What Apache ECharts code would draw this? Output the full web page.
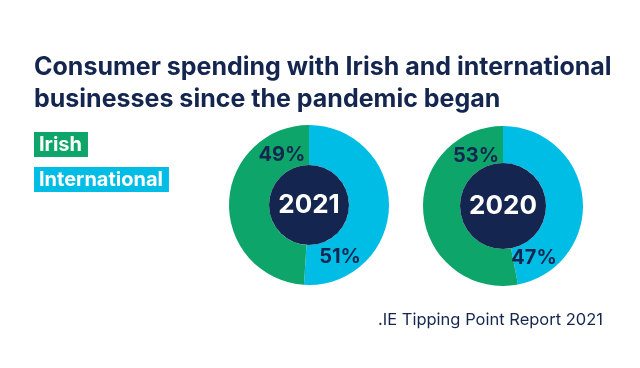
<!DOCTYPE html>
<html><head><meta charset="utf-8">
<script src="https://cdn.jsdelivr.net/npm/echarts@6/dist/echarts.min.js"></script>
<style>html,body{margin:0;padding:0;background:#fff}#c{width:640px;height:368px}</style>
</head><body><div id="c"></div>
<script>
const categories = ['International', 'Irish'];
const years = ['2021', '2020'];
const values2021 = [51, 49];
const values2020 = [47, 53];
const titleLines = ['Consumer spending with Irish and international', 'businesses since the pandemic began'];
const sourceText = '.IE Tipping Point Report 2021';

const NAVY = '#14264f', GREEN = '#0ea56a', BLUE = '#00bde6';
const FONT = 'Inter';
const chart = echarts.init(document.getElementById('c'), null, {renderer: 'canvas'});

const donuts = [
  {year: years[0], vals: values2021, center: [309, 205], inner: 40},
  {year: years[1], vals: values2020, center: [503, 206], inner: 43}
];
const series = [];
const graphics = [];
donuts.forEach(d => {
  series.push({
    type: 'pie', center: d.center, radius: [d.inner, 80], startAngle: 90, clockwise: true,
    silent: true, label: {show: false}, labelLine: {show: false},
    itemStyle: {borderWidth: 0},
    data: categories.map((c, i) => ({name: c, value: d.vals[i], itemStyle: {color: i === 0 ? BLUE : GREEN}}))
  });
  series.push({
    type: 'pie', center: d.center, radius: [0, d.inner], silent: true, labelLine: {show: false},
    label: {show: true, position: 'center', formatter: d.year, color: '#fff', fontFamily: FONT, fontWeight: 700, fontSize: 26},
    data: [{name: 'y' + d.year, value: 1, itemStyle: {color: NAVY}}]
  });
  // percentage labels
  graphics.push({type: 'text', z: 100, x: d.center[0] - 27, y: d.center[1] - 50,
    style: {text: d.vals[1] + '%', fill: NAVY, font: '700 20px ' + FONT, textAlign: 'center', textVerticalAlign: 'middle'}});
  graphics.push({type: 'text', z: 100, x: d.center[0] + 31, y: d.center[1] + 52,
    style: {text: d.vals[0] + '%', fill: NAVY, font: '700 20px ' + FONT, textAlign: 'center', textVerticalAlign: 'middle'}});
});
graphics.push({type: 'text', left: 34, top: 51,
  style: {text: titleLines.join('\n'), fill: NAVY, font: '700 25px ' + FONT, lineHeight: 32}});
graphics.push({type: 'text', right: 37, top: 312,
  style: {text: sourceText, fill: NAVY, font: '400 16.5px ' + FONT}});

chart.setOption({
  animation: false,
  legend: {
    orient: 'vertical', left: 24, top: 127, itemWidth: 0, itemHeight: 0, itemGap: 10,
    selectedMode: false, icon: 'rect',
    data: [
      {name: 'Irish', textStyle: {backgroundColor: GREEN}},
      {name: 'International', textStyle: {backgroundColor: BLUE}}
    ],
    textStyle: {color: '#fff', fontFamily: FONT, fontWeight: 700, fontSize: 20, padding: [3, 6, 2, 5]}
  },
  graphic: graphics,
  series: series
});
</script></body></html>
